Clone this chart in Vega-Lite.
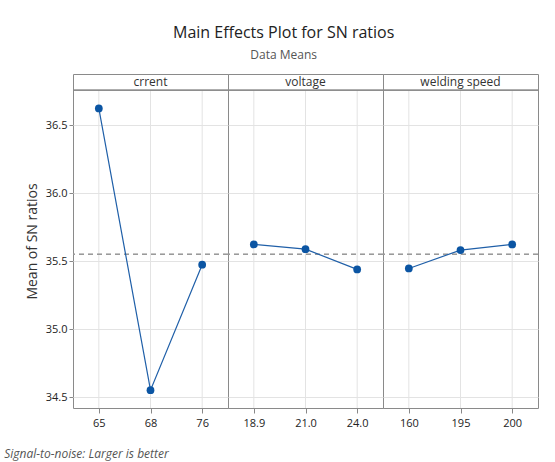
{
  "$schema": "https://vega.github.io/schema/vega-lite/v6.json",
  "padding": {"left": 4, "top": 24, "right": 8, "bottom": 5},
  "background": "white",
  "title": {"text": "Main Effects Plot for SN ratios", "subtitle": "Data Means", "anchor": "middle", "dx": 12, "fontSize": 16, "fontWeight": "normal", "font": "Open Sans", "color": "#222", "subtitleFontSize": 12, "subtitleColor": "#555", "subtitleFont": "Open Sans", "subtitlePadding": 9, "offset": 13},
  "datasets": {
    "sn": [
      {"factor": "crrent", "level": "65", "snr": 36.623},
      {"factor": "crrent", "level": "68", "snr": 34.551},
      {"factor": "crrent", "level": "76", "snr": 35.474},
      {"factor": "voltage", "level": "18.9", "snr": 35.623},
      {"factor": "voltage", "level": "21.0", "snr": 35.588},
      {"factor": "voltage", "level": "24.0", "snr": 35.439},
      {"factor": "welding speed", "level": "160", "snr": 35.446},
      {"factor": "welding speed", "level": "195", "snr": 35.581},
      {"factor": "welding speed", "level": "200", "snr": 35.623}
    ]
  },
  "vconcat": [
    {
      "data": {"name": "sn"},
      "title": {"text": "Signal-to-noise: Larger is better", "orient": "bottom", "anchor": "start", "frame": "bounds", "fontSize": 12, "fontStyle": "italic", "fontWeight": "normal", "font": "Open Sans", "color": "#555", "offset": 20, "dx": -21},
      "facet": {"column": {"field": "factor", "type": "nominal", "header": {"labels": false, "title": null}}},
      "spacing": {"column": 0, "row": 0},
      "bounds": "flush",
      "resolve": {"scale": {"x": "independent"}},
      "spec": {
        "width": 155,
        "height": 334,
        "encoding": {
          "x": {"field": "level", "type": "ordinal", "scale": {"type": "point", "padding": 0.5}, "axis": {"title": null, "labelAngle": 0, "grid": false, "domain": false, "tickColor": "#888", "tickSize": 5, "labelFontSize": 11, "labelFont": "Open Sans", "labelColor": "#222", "labelPadding": 4}}
        },
        "layer": [
          {
            "mark": {"type": "rule", "color": "#e3e3e3", "strokeWidth": 1},
            "encoding": {"y": {"datum": 34.42}, "y2": {"datum": 36.757}}
          },
          {
            "mark": {"type": "rule", "color": "#8a8a8a", "strokeWidth": 1},
            "encoding": {"x": null, "y": {"datum": 36.757}}
          },
          {
            "transform": [{"aggregate": [{"op": "count", "as": "n"}], "groupby": ["factor"]}],
            "mark": {"type": "text", "fontSize": 12, "font": "Open Sans", "color": "#333"},
            "encoding": {"x": null, "y": {"datum": 36.816}, "text": {"field": "factor"}}
          },
          {
            "mark": {"type": "rule", "strokeDash": [5, 4], "color": "#9a9a9a", "strokeWidth": 1.2},
            "encoding": {"x": null, "y": {"datum": 35.55}}
          },
          {
            "mark": {"type": "line", "color": "#1f5fa8", "strokeWidth": 1.2},
            "encoding": {
              "y": {"field": "snr", "type": "quantitative", "scale": {"domain": [34.42, 36.876], "nice": false, "zero": false}, "axis": {"title": "Mean of SN ratios", "values": [34.5, 35, 35.5, 36, 36.5], "format": ".1f", "grid": true, "gridColor": "#e3e3e3", "domain": false, "tickColor": "#888", "tickSize": 4, "labelFontSize": 11, "labelFont": "Open Sans", "labelColor": "#222", "labelPadding": 2, "titleFontSize": 14, "titleFont": "Open Sans", "titleFontWeight": 500, "titleColor": "#333", "titlePadding": 6}}
            }
          },
          {
            "mark": {"type": "point", "filled": true, "color": "#0b55a3", "size": 60, "opacity": 1},
            "encoding": {
              "y": {"field": "snr", "type": "quantitative"}
            }
          }
        ]
      }
    }
  ],
  "config": {
    "view": {"stroke": "#8a8a8a", "strokeWidth": 1},
    "font": "Open Sans"
  }
}
